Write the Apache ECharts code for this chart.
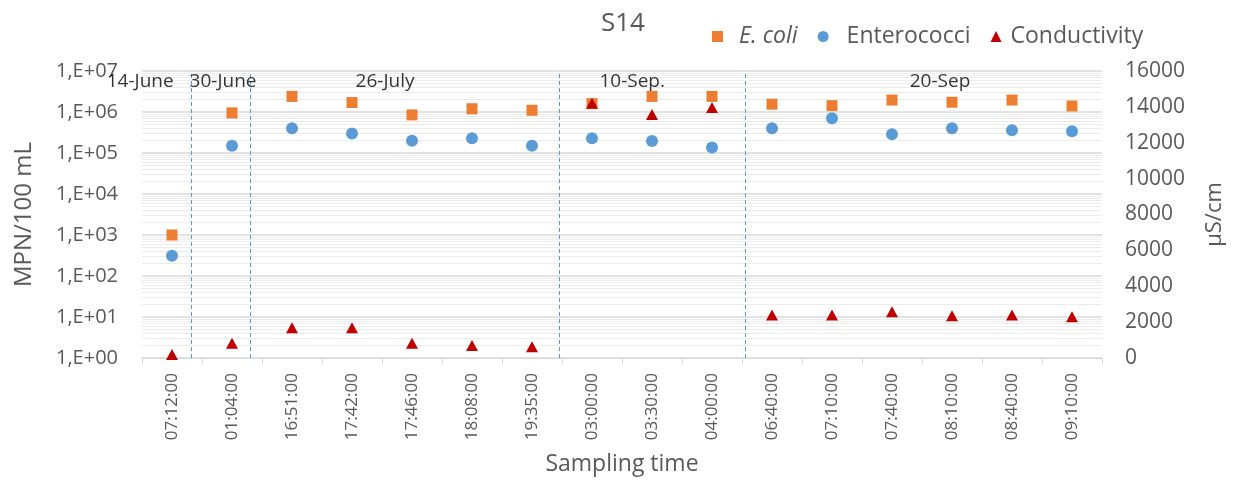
<!DOCTYPE html>
<html>
<head>
<meta charset="utf-8">
<script src="https://cdn.jsdelivr.net/npm/echarts@6/dist/echarts.min.js"></script>
<style>
    html, body { margin: 0; padding: 0; background: #fff; }
    #chart { width: 1239px; height: 496px; }
</style>
</head>
<body>
<div id="chart"></div>
<script>
// sampling times (x axis categories)
const categories = ['07:12:00', '01:04:00', '16:51:00', '17:42:00', '17:46:00', '18:08:00', '19:35:00', '03:00:00',
    '03:30:00', '04:00:00', '06:40:00', '07:10:00', '07:40:00', '08:10:00', '08:40:00', '09:10:00']
// MPN/100 mL (left, log axis)
const ecoli = [1000, 950000, 2400000, 1700000, 850000, 1200000, 1100000, 1600000,
    2400000, 2400000, 1550000, 1430000, 1960000, 1730000, 1960000, 1400000]
const enterococci = [310, 150000, 400000, 300000, 200000, 230000, 150000, 230000,
    195000, 137000, 400000, 700000, 285000, 400000, 360000, 340000]
// µS/cm (right axis)
const conductivity = [200, 820, 1690, 1690, 820, 690, 630, 14200,
    13580, 13970, 2400, 2400, 2580, 2360, 2400, 2300]
// sampling days, positions in category units from the left edge
const sessionLabels = ['14-June', '30-June', '26-July', '10-Sep.', '20-Sep']
const sessionLabelPos = [-0.03, 1.35, 4.05, 8.17, 13.3]
const sessionBreaks = [0.817, 1.8, 6.95, 10.05]

const FONT = 'Open Sans'
const GREY = '#595959'

// log minor gridlines (2..9 in each decade)
const minorGrid = []
for (let d = 0; d < 7; d++) {
    for (let k = 2; k <= 9; k++) minorGrid.push({ yAxis: k * Math.pow(10, d) })
}

const chart = echarts.init(document.getElementById('chart'))
const option = {
    animation: false,
    textStyle: { fontFamily: FONT },
    title: {
        text: 'S14',
        left: 596,
        top: 6,
        textStyle: { fontFamily: FONT, fontSize: 26, fontWeight: 'normal', color: GREY }
    },
    legend: {
        data: ['E. coli', 'Enterococci', 'Conductivity'],
        left: 707,
        top: 20,
        itemWidth: 11,
        itemHeight: 11,
        itemGap: 20,
        formatter: function (name) {
            if (name === 'E. coli') return '{i|E. coli}'
            if (name === 'Enterococci') return '{p|Enterococci}'
            return '{q|Conductivity}'
        },
        textStyle: {
            fontFamily: FONT,
            fontSize: 23,
            color: GREY,
            rich: {
                i: { fontStyle: 'italic', fontSize: 23, color: GREY, fontFamily: FONT, padding: [0, 7, 0, 11] },
                p: { fontSize: 23, color: GREY, fontFamily: FONT, padding: [0, 0, 0, 13] },
                q: { fontSize: 23, color: GREY, fontFamily: FONT, padding: [0, 0, 0, 4] }
            }
        }
    },
    grid: {
        left: 142,
        right: 137,
        top: 71,
        bottom: 138,
        outerBoundsMode: 'none'
    },
    xAxis: [
        {
            type: 'category',
            data: categories,
            name: 'Sampling time',
            nameLocation: 'middle',
            nameGap: 95,
            nameTextStyle: { fontFamily: FONT, fontSize: 23, color: GREY },
            axisLine: { lineStyle: { color: '#d9d9d9' } },
            axisTick: { show: true, length: 6, lineStyle: { color: '#d9d9d9' } },
            axisLabel: { rotate: 90, margin: 15, fontSize: 17, color: GREY, fontFamily: FONT, interval: 0 },
            splitLine: { show: false }
        },
        {
            type: 'value',
            min: 0,
            max: 16,
            show: false
        }
    ],
    yAxis: [
        {
            type: 'log',
            logBase: 10,
            min: 1,
            max: 10000000,
            splitNumber: 7,
            name: 'MPN/100 mL',
            nameLocation: 'middle',
            nameGap: 106,
            nameTextStyle: { fontFamily: FONT, fontSize: 24, color: GREY },
            axisLine: { show: false },
            axisTick: { show: false },
            axisLabel: {
                margin: 24,
                fontSize: 20,
                color: GREY,
                fontFamily: FONT,
                formatter: function (v) {
                    const e = Math.round(Math.log10(v))
                    return '1,E+' + String(e).padStart(2, '0')
                }
            },
            splitLine: { show: true, lineStyle: { color: '#d9d9d9', width: 1.5 } }
        },
        {
            type: 'value',
            min: 0,
            max: 16000,
            interval: 2000,
            name: 'µS/cm',
            nameLocation: 'middle',
            nameGap: 102,
            nameTextStyle: { fontFamily: FONT, fontSize: 22, color: GREY },
            axisLine: { show: false },
            axisTick: { show: false },
            axisLabel: { margin: 23, fontSize: 21, color: GREY, fontFamily: FONT, formatter: v => String(v) },
            splitLine: { show: false }
        }
    ],
    series: [
        {
            name: 'grid-minor',
            type: 'scatter',
            data: [],
            silent: true,
            z: 0,
            markLine: {
                silent: true,
                symbol: 'none',
                label: { show: false },
                lineStyle: { color: '#ececec', type: 'solid', width: 1 },
                data: minorGrid
            }
        },
        {
            name: 'E. coli',
            type: 'scatter',
            symbol: 'rect',
            symbolSize: 11,
            z: 5,
            itemStyle: { color: '#ED7D31', opacity: 1 },
            data: ecoli
        },
        {
            name: 'Enterococci',
            type: 'scatter',
            symbol: 'circle',
            symbolSize: 12,
            z: 5,
            itemStyle: { color: '#5B9BD5', opacity: 1 },
            data: enterococci
        },
        {
            name: 'Conductivity',
            type: 'scatter',
            symbol: 'triangle',
            symbolSize: [12, 11],
            yAxisIndex: 1,
            z: 5,
            itemStyle: { color: '#C00000', opacity: 1 },
            data: conductivity
        },
        {
            name: 'sessions',
            type: 'scatter',
            xAxisIndex: 1,
            yAxisIndex: 1,
            symbolSize: 0,
            silent: true,
            clip: false,
            z: 6,
            label: {
                show: true,
                position: 'inside',
                formatter: '{b}',
                fontFamily: FONT,
                fontSize: 19,
                color: '#000'
            },
            data: sessionLabels.map((s, i) => ({ name: s, value: [sessionLabelPos[i], 15400] })),
            markLine: {
                silent: true,
                symbol: 'none',
                label: { show: false },
                lineStyle: { color: '#5B9BD5', type: [4, 3], width: 1 },
                data: sessionBreaks.map(x => ({ xAxis: x }))
            }
        }
    ]
}
chart.setOption(option)
</script>
</body>
</html>
